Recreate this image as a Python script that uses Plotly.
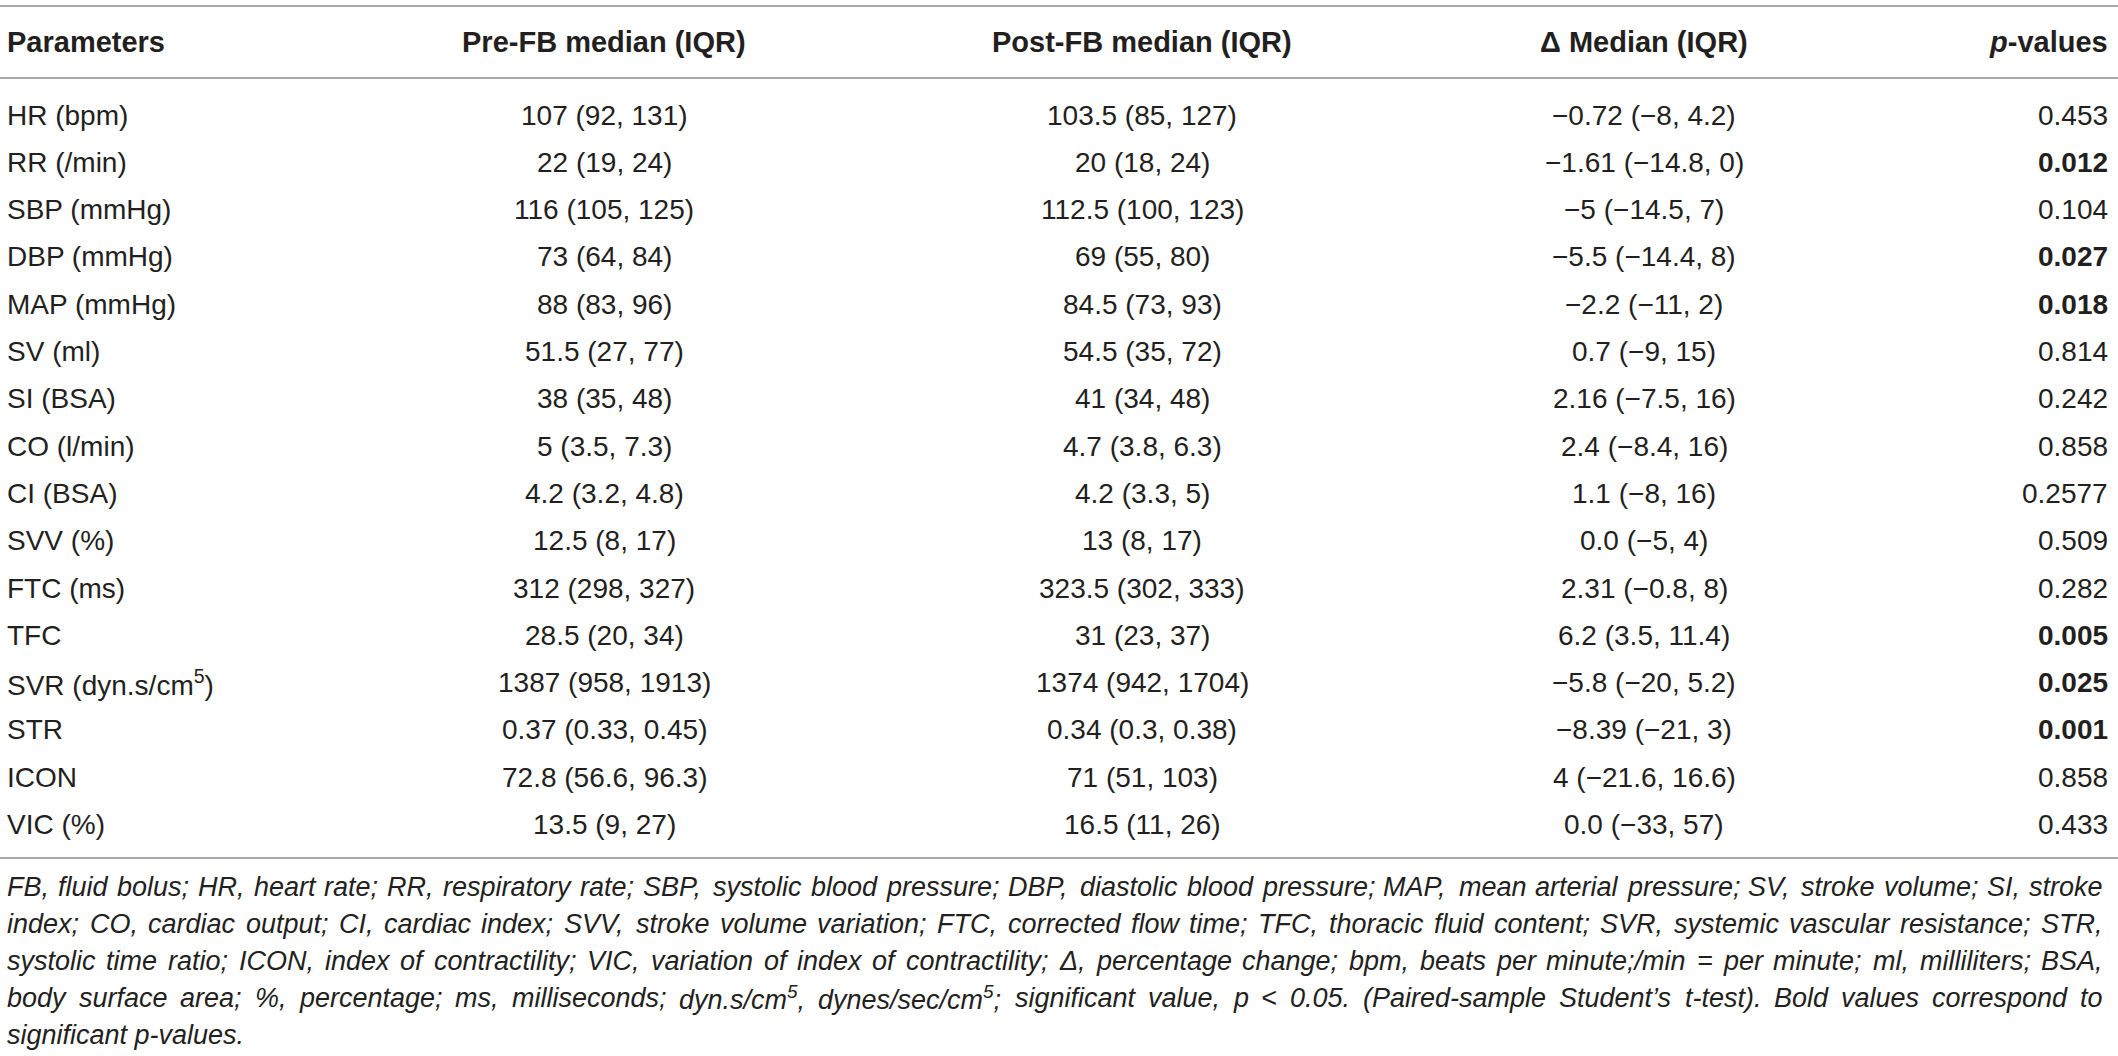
import re
import plotly.graph_objects as go

# table data
parameters = ["HR (bpm)", "RR (/min)", "SBP (mmHg)", "DBP (mmHg)", "MAP (mmHg)", "SV (ml)",
              "SI (BSA)", "CO (l/min)", "CI (BSA)", "SVV (%)", "FTC (ms)", "TFC",
              "SVR (dyn.s/cm<sup>5</sup>)", "STR", "ICON", "VIC (%)"]
pre_fb = ["107 (92, 131)", "22 (19, 24)", "116 (105, 125)", "73 (64, 84)", "88 (83, 96)",
          "51.5 (27, 77)", "38 (35, 48)", "5 (3.5, 7.3)", "4.2 (3.2, 4.8)", "12.5 (8, 17)",
          "312 (298, 327)", "28.5 (20, 34)", "1387 (958, 1913)", "0.37 (0.33, 0.45)",
          "72.8 (56.6, 96.3)", "13.5 (9, 27)"]
post_fb = ["103.5 (85, 127)", "20 (18, 24)", "112.5 (100, 123)", "69 (55, 80)", "84.5 (73, 93)",
           "54.5 (35, 72)", "41 (34, 48)", "4.7 (3.8, 6.3)", "4.2 (3.3, 5)", "13 (8, 17)",
           "323.5 (302, 333)", "31 (23, 37)", "1374 (942, 1704)", "0.34 (0.3, 0.38)",
           "71 (51, 103)", "16.5 (11, 26)"]
delta = ["\u22120.72 (\u22128, 4.2)", "\u22121.61 (\u221214.8, 0)", "\u22125 (\u221214.5, 7)",
         "\u22125.5 (\u221214.4, 8)", "\u22122.2 (\u221211, 2)", "0.7 (\u22129, 15)",
         "2.16 (\u22127.5, 16)", "2.4 (\u22128.4, 16)", "1.1 (\u22128, 16)", "0.0 (\u22125, 4)",
         "2.31 (\u22120.8, 8)", "6.2 (3.5, 11.4)", "\u22125.8 (\u221220, 5.2)",
         "\u22128.39 (\u221221, 3)", "4 (\u221221.6, 16.6)", "0.0 (\u221233, 57)"]
p_values = ["0.453", "0.012", "0.104", "0.027", "0.018", "0.814", "0.242", "0.858",
            "0.2577", "0.509", "0.282", "0.005", "0.025", "0.001", "0.858", "0.433"]

headers = ["Parameters", "Pre-FB median (IQR)", "Post-FB median (IQR)",
           "\u0394 Median (IQR)", "<i>p</i>-values"]

footnote = [
    "FB, fluid bolus; HR, heart rate; RR, respiratory rate; SBP, systolic blood pressure; DBP, diastolic blood pressure; MAP, mean arterial pressure; SV, stroke volume; SI, stroke",
    "index; CO, cardiac output; CI, cardiac index; SVV, stroke volume variation; FTC, corrected flow time; TFC, thoracic fluid content; SVR, systemic vascular resistance; STR,",
    "systolic time ratio; ICON, index of contractility; VIC, variation of index of contractility; \u0394, percentage change; bpm, beats per minute;/min = per minute; ml, milliliters; BSA,",
    "body surface area; %, percentage; ms, milliseconds; dyn.s/cm<sup>5</sup>, dynes/sec/cm<sup>5</sup>; significant value, p < 0.05. (Paired-sample Student\u2019s t-test). Bold values correspond to",
    "significant p-values.",
]

W, H = 2118, 1056
FONT = "Liberation Sans, Arial, Helvetica, sans-serif"
TXT = "#231f20"
RULE = "#a8a8a8"

# layout geometry (pixel units on hidden axes)
col_x = [7, 604, 1142, 1644, 2108]
col_anchor = ["left", "center", "center", "center", "right"]
header_y = 42
row_y0, row_pitch = 115, 47.3
rules_y = [6, 78, 858]
foot_y0, foot_pitch = 887, 37
foot_left, foot_right = 7, 2103
foot_size = 27

# Arial / Liberation Sans advance widths (1/1000 em), used to justify the footnote
_w = {" ": 278, "%": 889, "(": 333, ")": 333, ",": 278, "-": 333, ".": 278, "/": 278,
      ";": 278, "<": 584, "=": 584, "\u2019": 222, "\u0394": 668}
for ch in "0123456789":
    _w[ch] = 556
_w.update(dict(zip("ABCDEFGHIJKLMNOPQRSTUVWXYZ",
                   [667, 667, 722, 722, 667, 611, 778, 722, 278, 500, 667, 556, 833,
                    722, 778, 667, 778, 722, 667, 611, 722, 667, 944, 667, 667, 611])))
_w.update(dict(zip("abcdefghijklmnopqrstuvwxyz",
                   [556, 556, 500, 556, 556, 278, 556, 556, 222, 222, 500, 222, 833,
                    556, 556, 556, 556, 333, 500, 278, 556, 500, 722, 500, 500, 500])))


def text_width(s, size):
    total = 0.0
    for p in re.split(r"(<sup>.*?</sup>)", s):
        if p.startswith("<sup>"):
            total += sum(_w.get(c, 556) for c in p[5:-6]) * 0.7
        else:
            total += sum(_w.get(c, 556) for c in p)
    return total * size / 1000.0


fig = go.Figure()
anns = []

for c, h in enumerate(headers):
    anns.append(dict(x=col_x[c], y=header_y, text=h, xanchor=col_anchor[c], yanchor="middle",
                     font=dict(size=29, color=TXT, family=FONT, weight="bold")))

columns = [parameters, pre_fb, post_fb, delta, p_values]
for c, col in enumerate(columns):
    for r, val in enumerate(col):
        bold = c == 4 and float(val) < 0.05
        anns.append(dict(x=col_x[c], y=row_y0 + r * row_pitch, text=val, xanchor=col_anchor[c],
                         yanchor="middle",
                         font=dict(size=28, color=TXT, family=FONT,
                                   weight="bold" if bold else "normal")))

# footnote: justified lines (last line left aligned)
for i, line in enumerate(footnote):
    y = foot_y0 + i * foot_pitch
    fnt = dict(size=foot_size, color=TXT, family=FONT, style="italic")
    if i == len(footnote) - 1:
        anns.append(dict(x=foot_left, y=y, text=line, xanchor="left", yanchor="middle", font=fnt))
        continue
    words = line.split(" ")
    widths = [text_width(wd, foot_size) for wd in words]
    gap = (foot_right - foot_left - sum(widths)) / (len(words) - 1)
    x = foot_left
    for wd, wdt in zip(words, widths):
        anns.append(dict(x=x, y=y, text=wd, xanchor="left", yanchor="middle", font=fnt))
        x += wdt + gap

for a in anns:
    a.update(xref="x", yref="y", showarrow=False, borderpad=0, borderwidth=0)

shapes = [dict(type="line", xref="x", yref="y", x0=0, x1=W, y0=y, y1=y,
               line=dict(color=RULE, width=2)) for y in rules_y]

fig.update_layout(
    width=W, height=H,
    margin=dict(l=0, r=0, t=0, b=0),
    paper_bgcolor="white", plot_bgcolor="white",
    annotations=anns, shapes=shapes,
    xaxis=dict(range=[0, W], visible=False, fixedrange=True),
    yaxis=dict(range=[H, 0], visible=False, fixedrange=True),
    showlegend=False,
)

fig.write_html("out.html", config={"displayModeBar": False},
               post_script="document.body.style.margin='0';document.body.style.overflow='hidden';")
